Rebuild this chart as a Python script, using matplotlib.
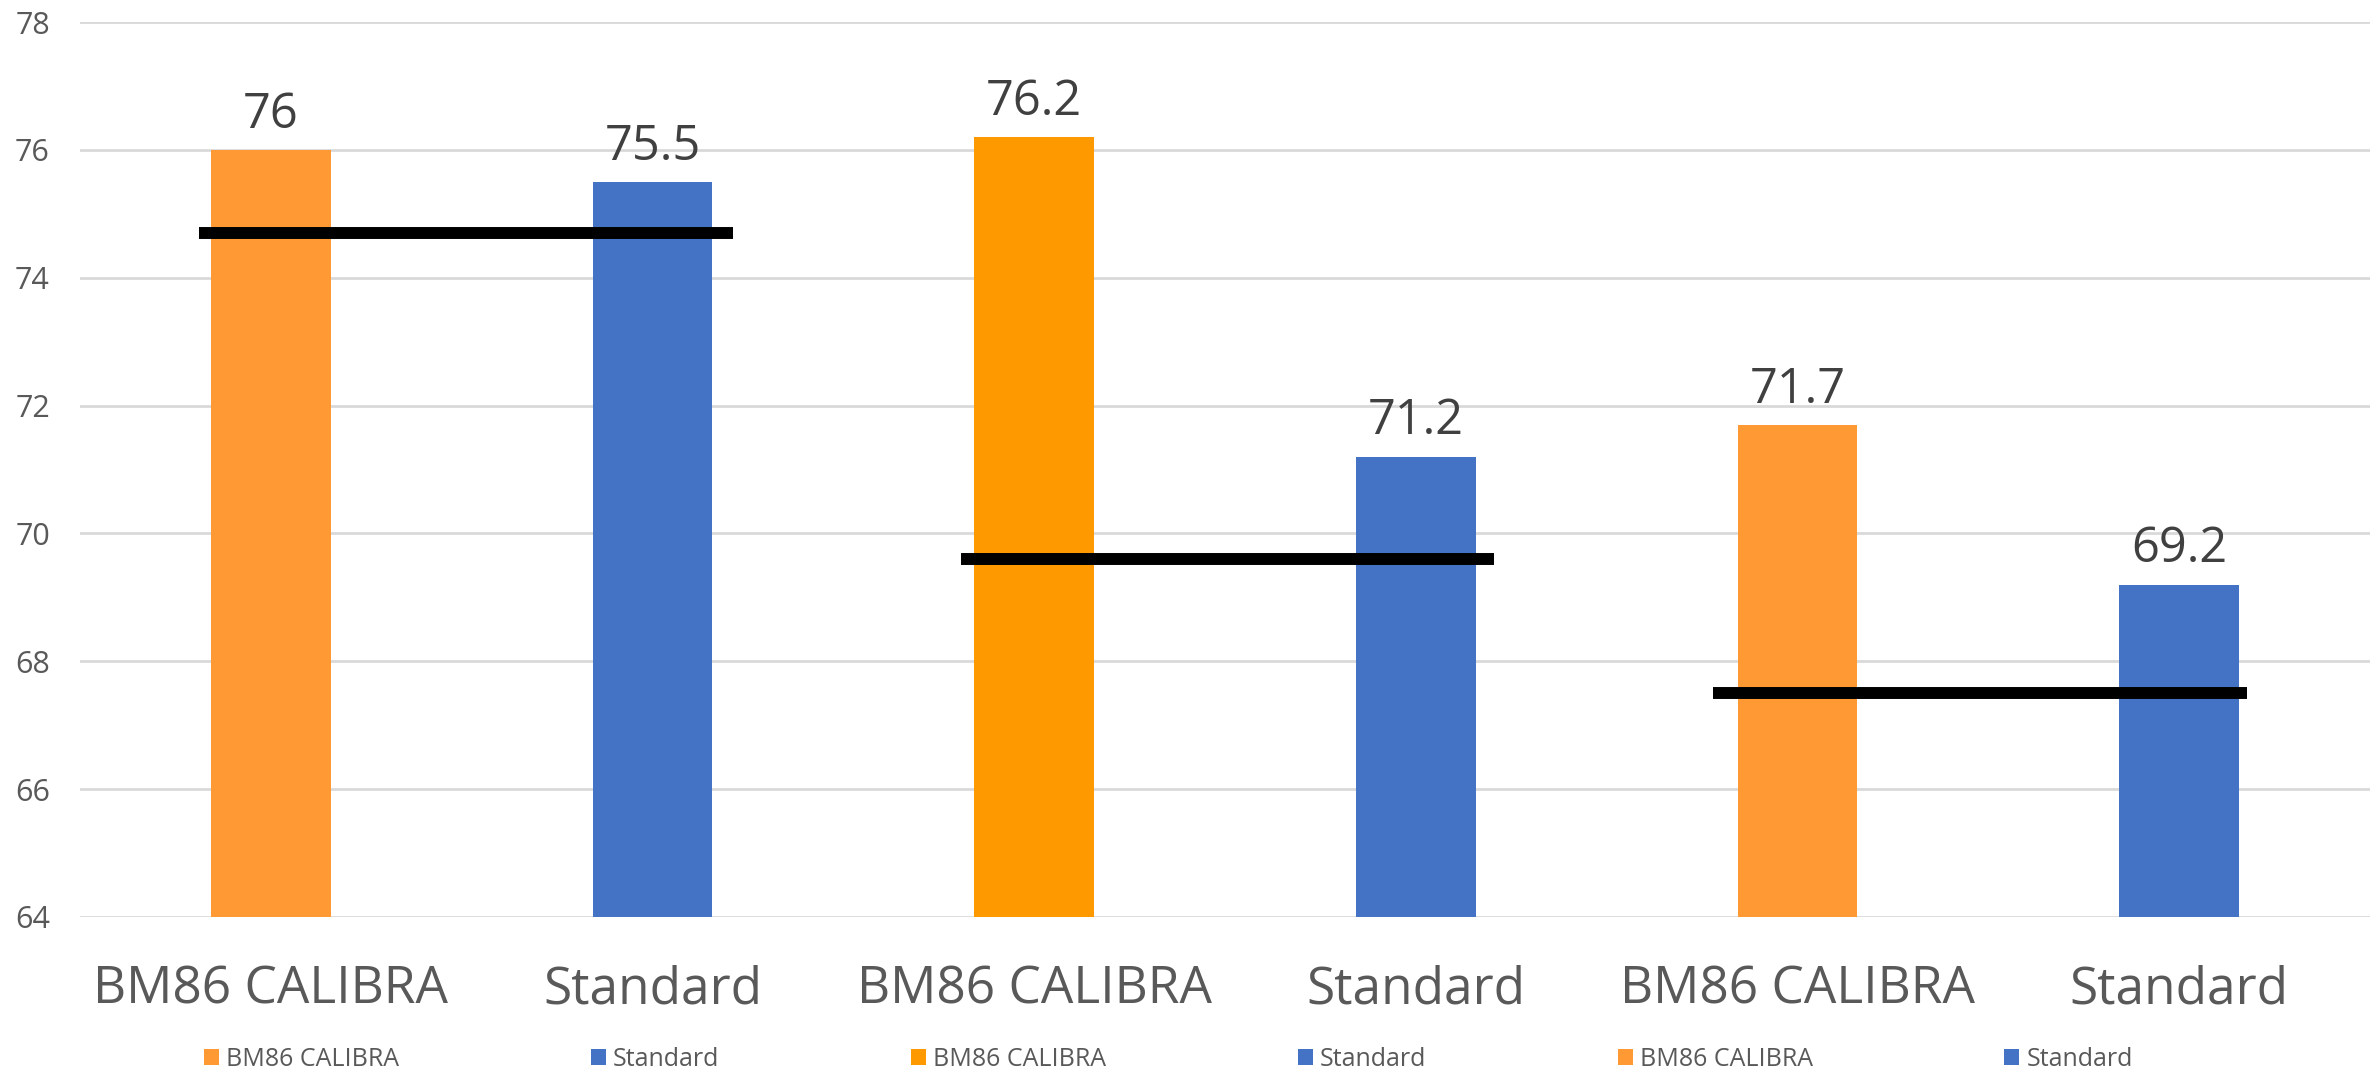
import matplotlib.pyplot as plt
import numpy as np

plt.rcParams['font.family'] = ['Open Sans', 'DejaVu Sans']

# bar data, left to right
labels = ['BM86 CALIBRA', 'Standard', 'BM86 CALIBRA', 'Standard', 'BM86 CALIBRA', 'Standard']
values = [76, 75.5, 76.2, 71.2, 71.7, 69.2]
colors = ['#FF9933', '#4472C4', '#FF9900', '#4472C4', '#FF9933', '#4472C4']

# black reference line over each pair of bars
pair_start = [0, 2, 4]
pair_level = [74.7, 69.6, 67.5]
line_pad_left = [0.03, 0.035, 0.065]
line_pad_right = [0.053, 0.048, 0.022]

yticks = [64, 66, 68, 70, 72, 74, 76, 78]

bar_width = 0.314
x = np.arange(len(values))

fig = plt.figure(figsize=(23.8, 10.75), dpi=100)
ax = fig.add_axes([0.0336, 0.147, 0.9622, 0.8325])

handles = []
for i in range(len(values)):
    b = ax.bar(x[i], values[i] - 64, bottom=64, width=bar_width, color=colors[i],
               label=labels[i], zorder=2)
    handles.append(b)
    ax.annotate(f'{values[i]:g}', (x[i], values[i]), xytext=(0, 16),
                textcoords='offset points', ha='center', va='baseline',
                fontsize=35, color='#404040')

for s, lvl, pl, pr in zip(pair_start, pair_level, line_pad_left, line_pad_right):
    x0 = x[s] - bar_width / 2 - pl
    x1 = x[s + 1] + bar_width / 2 + pr
    ax.plot([x0, x1], [lvl, lvl], color='black', linewidth=8.6,
            solid_capstyle='butt', zorder=3)

ax.set_xlim(-0.5, len(values) - 0.5)
ax.set_ylim(64, 78)
ax.set_yticks(yticks)
ax.set_yticklabels([str(t) for t in yticks])
ax.set_xticks(x)
ax.set_xticklabels(labels)

ax.grid(axis='y', color='#D9D9D9', linewidth=2, zorder=0)
ax.set_axisbelow(True)
for sp in ax.spines.values():
    sp.set_visible(False)
ax.tick_params(axis='y', length=0, pad=21.6, labelsize=22, labelcolor='#595959')
ax.tick_params(axis='x', length=0, pad=34, labelsize=37, labelcolor='#595959')

fig.legend(handles=handles, labels=labels, loc='lower center', ncol=6,
           bbox_to_anchor=(0.491, -0.018), frameon=False, fontsize=18,
           labelcolor='#595959', handlelength=0.6, handleheight=0.6,
           handletextpad=0.3, columnspacing=7.65)

fig.savefig('out.png', dpi=100)
